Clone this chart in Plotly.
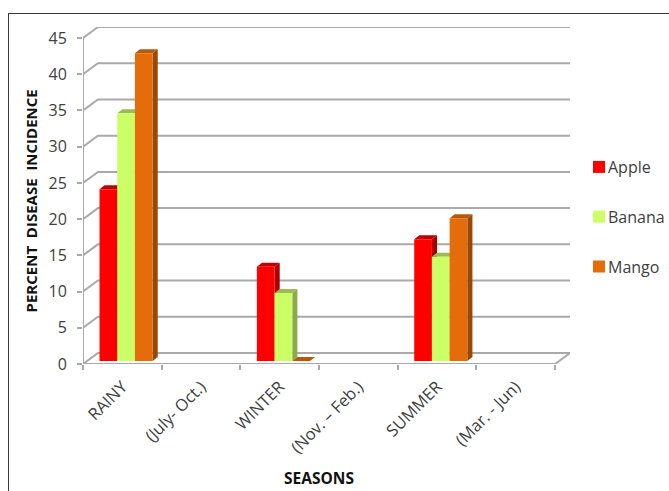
import plotly.graph_objects as go

# Season labels, two rows per season in the sheet the figures came from
categories = ["RAINY", "(July- Oct.)", "WINTER", "(Nov. – Feb.)", "SUMMER", "(Mar. - Jun)"]
apple = [23.7, None, 13.0, None, 16.8, None]
banana = [34.2, None, 9.4, None, 14.4, None]
mango = [42.5, None, 0.0, None, 19.7, None]
y_ticks = [0, 5, 10, 15, 20, 25, 30, 35, 40, 45]

W, H = 669, 491
LEFT, RIGHT, TOP, BOTTOM = 83, 570, 27, 491 - 364
FONT = "Open Sans"
GRID = "#a9a9a9"
TEXT = "#404040"
NBSP = "\u00a0"

series = [
    ("Apple", apple, "#ff0000", "#a80000", "#c00000"),
    ("Banana", banana, "#ccff66", "#8aab4c", "#9dbb55"),
    ("Mango", mango, "#e46c0a", "#984807", "#b85808"),
]

# Oblique projection: how far the back wall and the bars' depth shift a point
WALL_DX, WALL_DY = 0.19, 1.52
BAR_DX, BAR_DY = 0.065, 0.55
BAR_INSET_Y = 0.41
BAR_WIDTH = 0.225
OFFSETS = [-0.29, -0.065, 0.16]
X_RANGE = [-0.5, 5.5 + WALL_DX]
Y_RANGE = [0, 45 + WALL_DY]

fig = go.Figure()

# Wall lines, floor and front axis live on the lower numeric subplot
wall_x, wall_y = [], []
for v in y_ticks:
    wall_x += [-0.5, -0.5 + WALL_DX, 5.5 + WALL_DX, None]
    wall_y += [v, v + WALL_DY, v + WALL_DY, None]
wall_x += [-0.5, -0.5, None, -0.5, 5.5, 5.5 + WALL_DX]
wall_y += [0, 45, None, 0, 0, WALL_DY]
fig.add_trace(go.Scatter(x=wall_x, y=wall_y, mode="lines", cliponaxis=False,
                         line=dict(color=GRID, width=2), hoverinfo="skip",
                         showlegend=False))

# Side and top faces of each bar, computed from the series values
for s_idx, (name, vals, front, side, top) in enumerate(series):
    for i, v in enumerate(vals):
        if v is None:
            continue
        x0 = i + OFFSETS[s_idx]
        x1 = x0 + BAR_WIDTH
        y0 = BAR_INSET_Y
        y1 = BAR_INSET_Y + v
        fig.add_trace(go.Scatter(
            x=[x1, x1 + BAR_DX, x1 + BAR_DX, x1, x1],
            y=[y0, y0 + BAR_DY, y1 + BAR_DY, y1, y0],
            mode="lines", fill="toself", fillcolor=side, cliponaxis=False,
            line=dict(color=side, width=0), hoverinfo="skip", showlegend=False))
        fig.add_trace(go.Scatter(
            x=[x0, x0 + BAR_DX, x1 + BAR_DX, x1, x0],
            y=[y1, y1 + BAR_DY, y1 + BAR_DY, y1, y1],
            mode="lines", fill="toself", fillcolor=top, cliponaxis=False,
            line=dict(color=top, width=0), hoverinfo="skip", showlegend=False))

# Front faces are ordinary bars on the category axis, layered above the faces
for s_idx, (name, vals, front, side, top) in enumerate(series):
    fig.add_trace(go.Bar(
        x=categories, y=vals, name=name, xaxis="x2", yaxis="y",
        base=BAR_INSET_Y, width=BAR_WIDTH, offset=OFFSETS[s_idx],
        marker=dict(color=front, line=dict(width=0)),
        legendgroup=name))

# Thin frame along the top and left of the page
px_x = lambda p: (p - LEFT) / (RIGHT - LEFT)
px_y = lambda p: (H - BOTTOM - p) / (H - BOTTOM - TOP)
frame = dict(type="line", xref="paper", yref="paper",
             line=dict(color="#3a3a3a", width=1))
shapes = [
    dict(frame, x0=px_x(8), x1=px_x(W), y0=px_y(13.5), y1=px_y(13.5)),
    dict(frame, x0=px_x(8.5), x1=px_x(8.5), y0=px_y(13.5), y1=px_y(H)),
]

# Axis titles centred on the front edges of the box rather than the whole plot area
title_common = dict(xref="paper", yref="paper", showarrow=False,
                    xanchor="center", yanchor="middle")
annotations = [
    dict(title_common, text="SEASONS", x=px_x(319), y=px_y(478),
         font=dict(family=FONT, size=15.5, color="#111111", weight="bold")),
    dict(title_common, text=f"PERCENT{NBSP} DISEASE{NBSP} INCIDENCE",
         x=px_x(31), y=px_y(201.5), textangle=-90,
         font=dict(family=FONT, size=15, color="#111111", weight="bold")),
]

fig.update_layout(
    width=W, height=H, autosize=False,
    margin=dict(l=LEFT, r=W - RIGHT, t=TOP, b=BOTTOM, pad=0, autoexpand=False),
    paper_bgcolor="white", plot_bgcolor="white",
    font=dict(family=FONT, color=TEXT),
    barmode="overlay",
    shapes=shapes,
    annotations=annotations,
    xaxis=dict(range=X_RANGE, visible=False, fixedrange=True),
    xaxis2=dict(
        type="category", overlaying="x", anchor="y", side="bottom",
        categoryorder="array", categoryarray=categories,
        range=X_RANGE, tickson="boundaries", ticks="outside", ticklen=5,
        tickcolor=GRID, tickwidth=1.5, showgrid=False, showline=False, zeroline=False,
        tickangle=-45, ticklabelstandoff=9,
        tickfont=dict(family=FONT, size=16.5, color=TEXT),
        fixedrange=True,
    ),
    yaxis=dict(
        range=Y_RANGE, tickvals=y_ticks, ticks="outside", ticklen=5,
        tickcolor=GRID, tickwidth=1.5, showgrid=False, showline=False, zeroline=False,
        ticklabelstandoff=7,
        tickfont=dict(family=FONT, size=16, color=TEXT),
        fixedrange=True,
    ),
    legend=dict(
        x=px_x(579), y=px_y(150), xanchor="left", yanchor="top",
        traceorder="grouped", tracegroupgap=26, borderwidth=0,
        entrywidth=48, entrywidthmode="pixels",
        bgcolor="rgba(0,0,0,0)", font=dict(family=FONT, size=16, color=TEXT),
    ),
)

# Pull the legend labels closer to their swatches
post = """
document.querySelectorAll('.legendtext').forEach(function (t) { t.setAttribute('x', '29'); });
"""
fig.write_html("out.html", post_script=post, config=dict(displayModeBar=False))
